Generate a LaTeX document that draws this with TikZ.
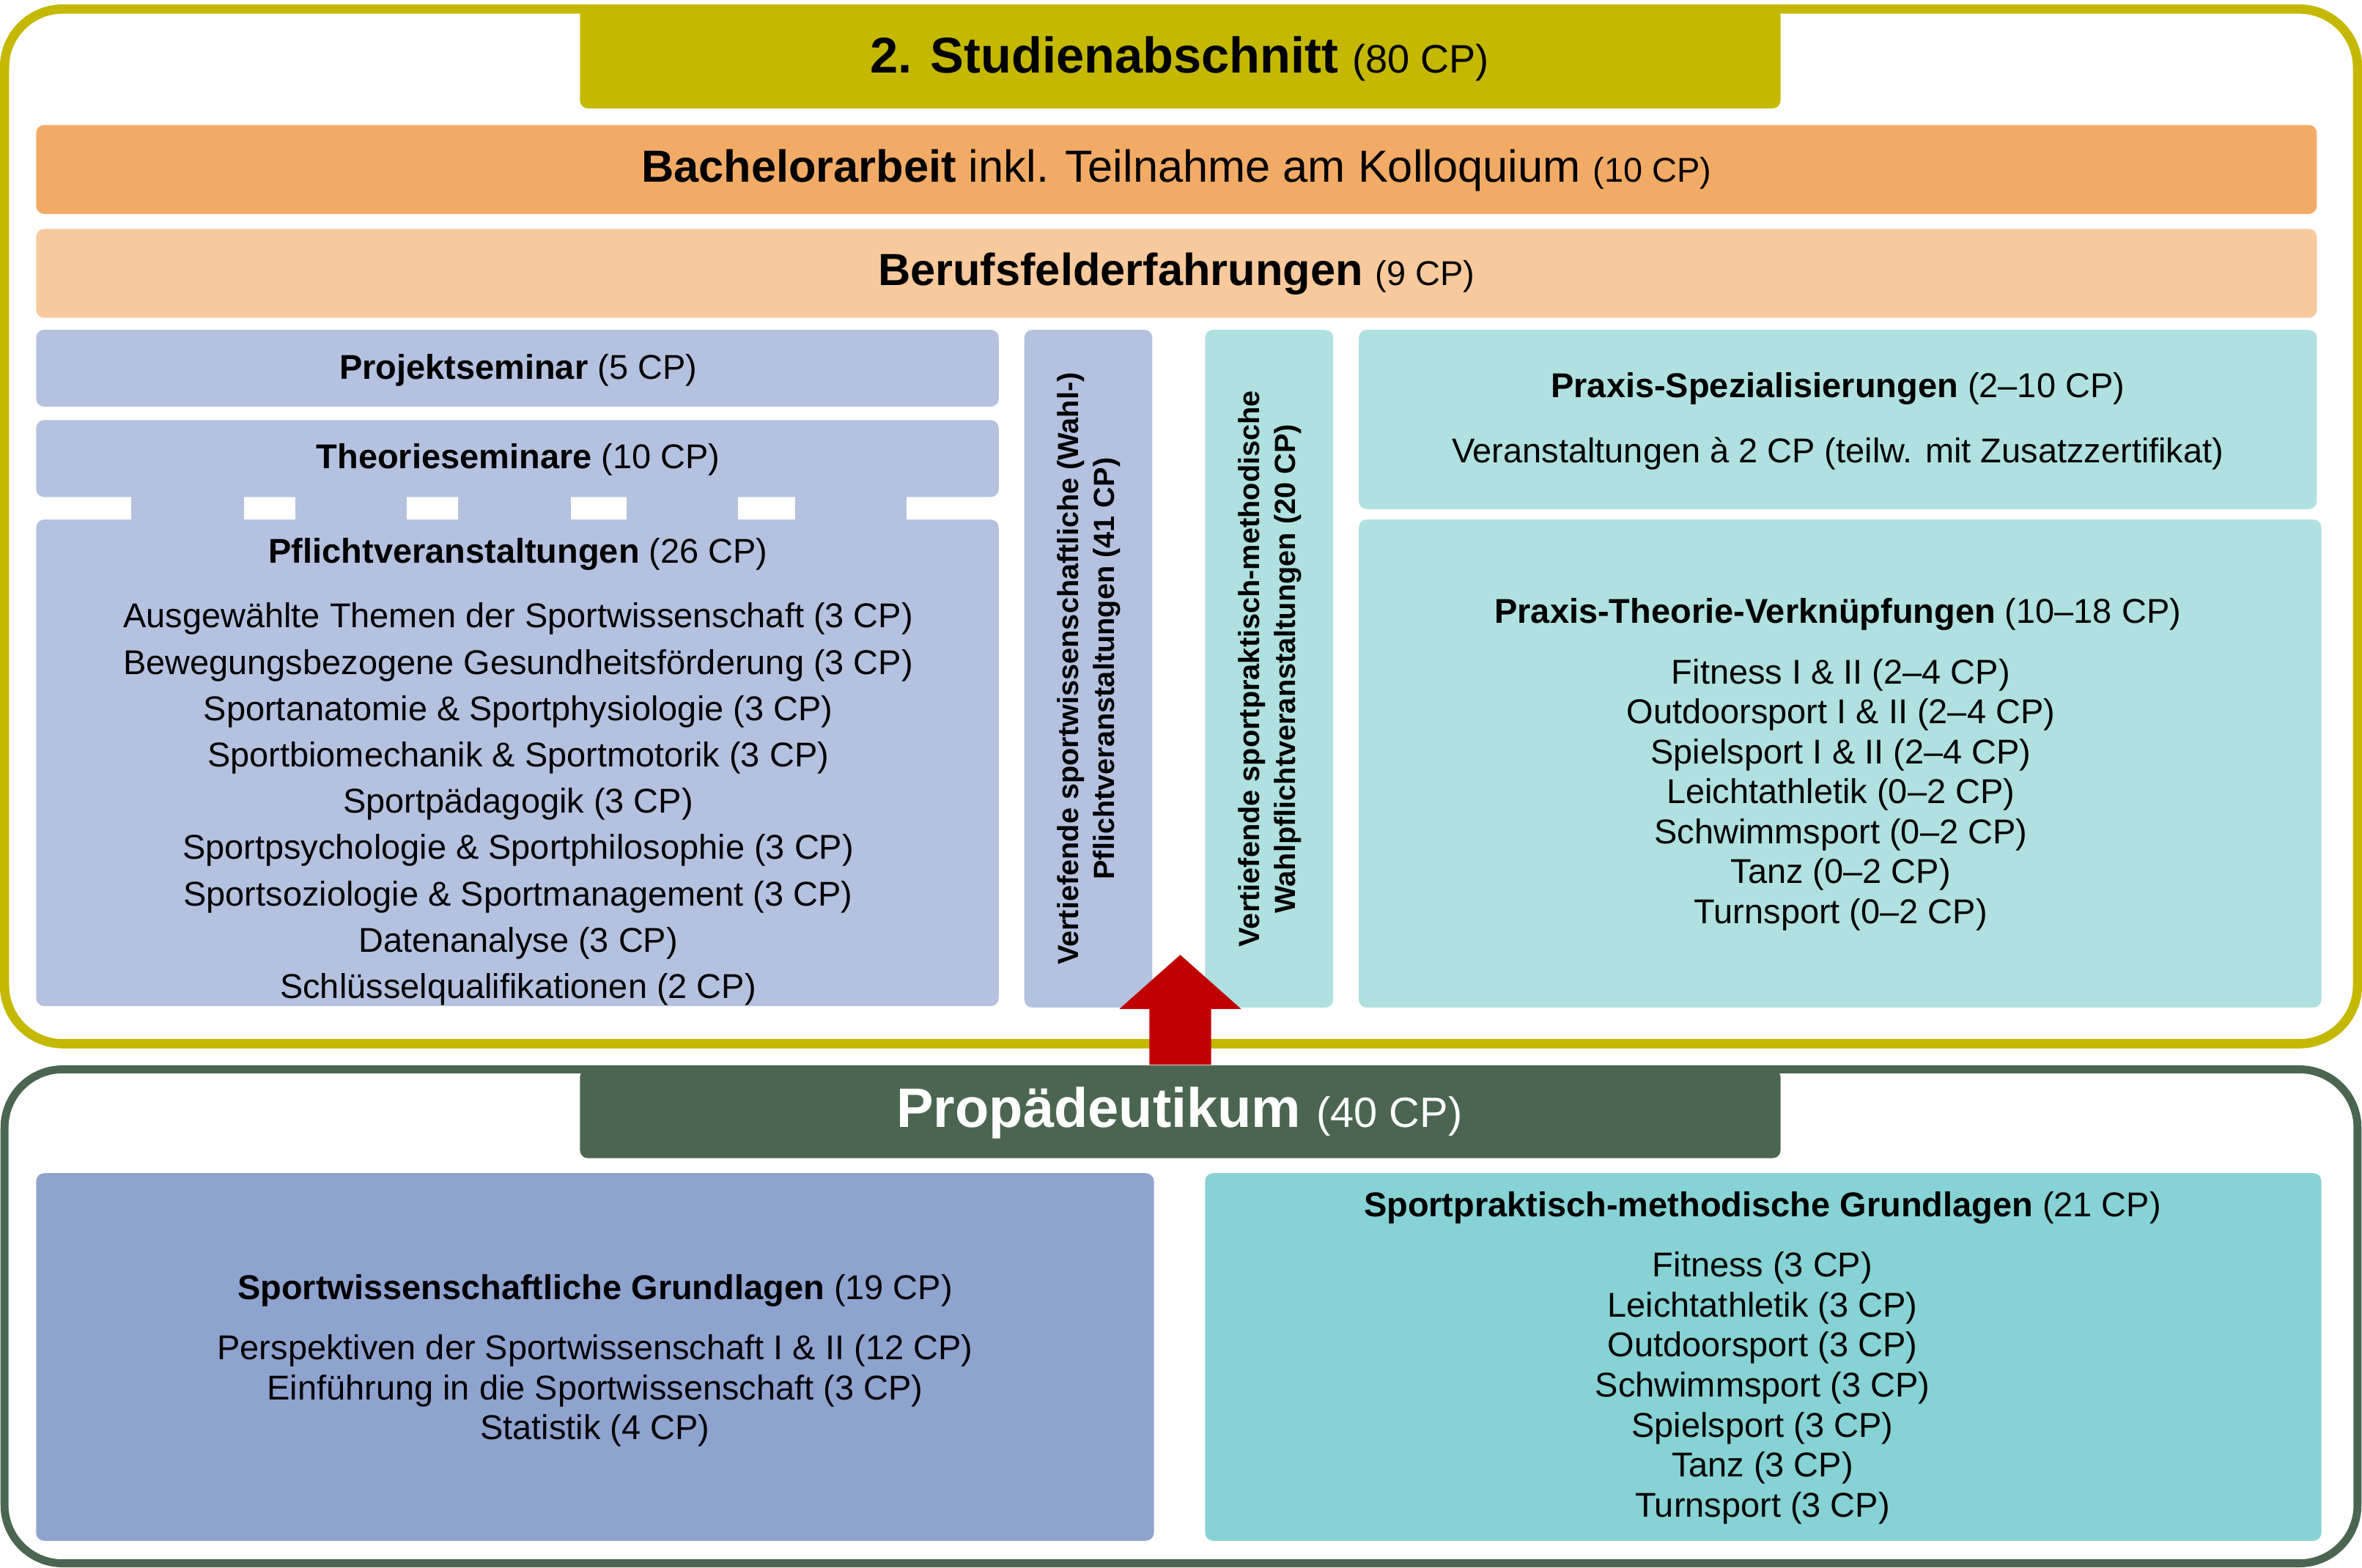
\documentclass[tikz,border=0pt]{standalone}
\usepackage{fontspec}
\setmainfont{Liberation Sans}
\begin{document}
\begin{tikzpicture}[x=0.02cm,y=-0.02cm,
  box/.style={rounded corners=3pt},
  txt/.style={align=center,font=\fontsize{13}{15.3}\selectfont,inner sep=0pt},
  vtxt/.style={align=center,font=\fontsize{11}{13.5}\selectfont\bfseries,inner sep=0pt,rotate=90}]
\definecolor{olive}{HTML}{C4B800}
\definecolor{orangeA}{HTML}{F2AB66}
\definecolor{orangeB}{HTML}{F7C99D}
\definecolor{blueA}{HTML}{B4C2E0}
\definecolor{blueB}{HTML}{8FA3CF}
\definecolor{tealA}{HTML}{B0E0E0}
\definecolor{tealB}{HTML}{86D2D4}
\definecolor{greenD}{HTML}{4A6650}
\definecolor{redA}{HTML}{C00000}
\useasboundingbox (0,0) rectangle (1568,1041);
% frames
\draw[olive,line width=3.5pt,rounded corners=22pt] (3,6) rectangle (1565,693);
\draw[greenD,line width=3pt,rounded corners=22pt] (3,710) rectangle (1565,1038);
% title bars
\fill[olive,box] (385,5) rectangle (1182,72);
\node[txt,font=\fontsize{19}{22}\selectfont] (t1) at (783,39) {\textbf{2. Studienabschnitt} {\fontsize{15}{18}\selectfont(80 CP)}};
\fill[orangeA,box] (24,83) rectangle (1538,142);
\node[txt,font=\fontsize{17}{20}\selectfont] (ba) at (781,113) {\textbf{Bachelorarbeit} inkl. Teilnahme am Kolloquium {\fontsize{13}{15}\selectfont(10 CP)}};
\fill[orangeB,box] (24,152) rectangle (1538,211);
\node[txt,font=\fontsize{17}{20}\selectfont] (bf) at (781,182) {\textbf{Berufsfelderfahrungen} {\fontsize{13}{15}\selectfont(9 CP)}};
% left column
\fill[blueA,box] (24,219) rectangle (663,270);
\node[txt] (ps) at (344,246) {\textbf{Projektseminar} (5 CP)};
\fill[blueA,box] (24,279) rectangle (663,330);
\node[txt] (ts) at (344,305) {\textbf{Theorieseminare} (10 CP)};
\foreach \a/\b in {87/162,196/270,304/379,416/490,528/602}
  \fill[blueA] (\a,329) rectangle (\b,346);
\fill[blueA,box] (24,345) rectangle (663,668);
\node[txt] (pv) at (344,368) {\textbf{Pflichtveranstaltungen} (26 CP)};
\node[txt,anchor=north,font=\fontsize{13}{17.5}\selectfont] (pvl) at (344,400) {Ausgewählte Themen der Sportwissenschaft (3 CP)\\Bewegungsbezogene Gesundheitsförderung (3 CP)\\Sportanatomie \& Sportphysiologie (3 CP)\\Sportbiomechanik \& Sportmotorik (3 CP)\\Sportpädagogik (3 CP)\\Sportpsychologie \& Sportphilosophie (3 CP)\\Sportsoziologie \& Sportmanagement (3 CP)\\Datenanalyse (3 CP)\\Schlüsselqualifikationen (2 CP)};
% vertical boxes
\fill[blueA,box] (680,219) rectangle (765,669);
\node[vtxt] (v1) at (723,444) {Vertiefende sportwissenschaftliche (Wahl-)\\Pflichtveranstaltungen (41 CP)};
\fill[tealA,box] (800,219) rectangle (885,669);
\node[vtxt] (v2) at (843,444) {Vertiefende sportpraktisch-methodische\\Wahlpflichtveranstaltungen (20 CP)};
% right column
\fill[tealA,box] (902,219) rectangle (1538,338);
\node[txt] (pz) at (1220,258) {\textbf{Praxis-Spezialisierungen} (2–10 CP)};
\node[txt] (pz2) at (1220,301) {Veranstaltungen à 2 CP (teilw. mit Zusatzzertifikat)};
\fill[tealA,box] (902,345) rectangle (1541,669);
\node[txt] (pt) at (1220,408) {\textbf{Praxis-Theorie-Verknüpfungen} (10–18 CP)};
\node[txt,anchor=north,font=\fontsize{13}{15.1}\selectfont] (ptl) at (1222,437) {Fitness I \& II (2–4 CP)\\Outdoorsport I \& II (2–4 CP)\\Spielsport I \& II (2–4 CP)\\Leichtathletik (0–2 CP)\\Schwimmsport (0–2 CP)\\Tanz (0–2 CP)\\Turnsport (0–2 CP)};
% Propädeutikum
\fill[greenD,box] (385,710) rectangle (1182,769);
\node[txt,text=white,font=\fontsize{21}{24}\selectfont] (pr) at (783,739) {\textbf{Propädeutikum} {\fontsize{16}{19}\selectfont(40 CP)}};
% arrow
\fill[redA] (763,707) -- (763,670) -- (743,670) -- (783.5,634) -- (824,670) -- (804,670) -- (804,707) -- cycle;
\fill[blueB,box] (24,779) rectangle (766,1023);
\node[txt] (sg) at (395,857) {\textbf{Sportwissenschaftliche Grundlagen} (19 CP)};
\node[txt,anchor=north,font=\fontsize{13}{15.1}\selectfont] (sgl) at (395,886) {Perspektiven der Sportwissenschaft I \& II (12 CP)\\Einführung in die Sportwissenschaft (3 CP)\\Statistik (4 CP)};
\fill[tealB,box] (800,779) rectangle (1541,1023);
\node[txt] (sp) at (1170,802) {\textbf{Sportpraktisch-methodische Grundlagen} (21 CP)};
\node[txt,anchor=north,font=\fontsize{13}{15.1}\selectfont] (spl) at (1170,831) {Fitness (3 CP)\\Leichtathletik (3 CP)\\Outdoorsport (3 CP)\\Schwimmsport (3 CP)\\Spielsport (3 CP)\\Tanz (3 CP)\\Turnsport (3 CP)};
\end{tikzpicture}
\end{document}
